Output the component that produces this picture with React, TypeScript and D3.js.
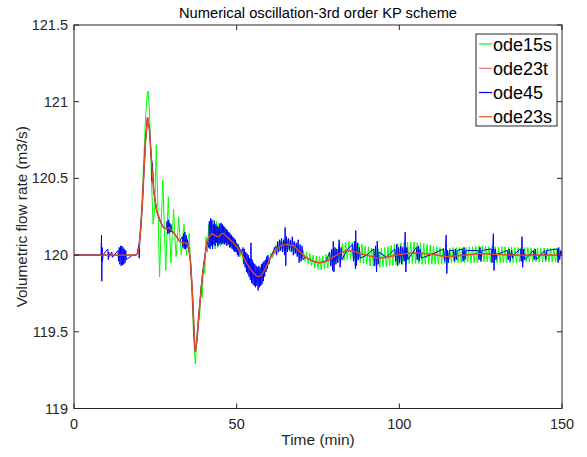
import React from 'react';
import * as d3 from 'd3';

const W = 587, H = 457;
const PL = 74, PR = 562, PT = 25, PB = 408.5;

const xTicks = [0, 50, 100, 150];
const yTicks = [119, 119.5, 120, 120.5, 121, 121.5];
const yTickLabels = ['119', '119.5', '120', '120.5', '121', '121.5'];
const seriesNames = ['ode15s', 'ode23t', 'ode45', 'ode23s'];
const seriesColors = ['#00ff00', '#f26b6b', '#0000ff', '#e0561d'];

// smooth solution (ode23t / ode23s)
const smoothT = [0, 18, 19, 19.5, 20, 20.5, 21, 21.5, 22, 22.6, 23.2, 23.8, 24.5, 25.4, 26.5, 27.5, 28.5, 29.2, 30.5, 31.5, 32.5, 33.5, 34.5, 35.2, 35.8, 36.4, 37.0, 37.3, 37.8, 38.7, 39.5, 40.3, 40.9, 41.6, 42.3, 43.2, 44.0, 44.6, 45.3, 46.0, 47.0, 48.0, 49.0, 50.0, 51.5, 53.0, 54.5, 56.0, 56.8, 57.5, 58.5, 60.3, 62.0, 63.5, 65.4, 67.5, 69.5, 71.0, 72.5, 74.0, 75.6, 77.5, 80, 82, 83.8, 86, 88, 90, 93, 96, 99, 102, 105.4, 110, 114.6, 120, 125, 130, 135, 140, 145, 150];
const smoothV = [120.0, 120.0, 120.0, 120.01, 120.05, 120.17, 120.33, 120.55, 120.75, 120.9, 120.82, 120.62, 120.42, 120.29, 120.22, 120.18, 120.17, 120.18, 120.15, 120.12, 120.09, 120.08, 120.08, 120.06, 119.96, 119.75, 119.45, 119.37, 119.45, 119.69, 119.87, 120.0, 120.09, 120.12, 120.14, 120.13, 120.12, 120.12, 120.14, 120.14, 120.12, 120.1, 120.08, 120.055, 120.01, 119.95, 119.9, 119.865, 119.86, 119.865, 119.9, 119.98, 120.03, 120.06, 120.07, 120.06, 120.02, 119.99, 119.97, 119.955, 119.95, 119.96, 119.99, 120.015, 120.03, 120.025, 120.01, 120.0, 119.98, 119.985, 120.0, 120.01, 120.015, 120.005, 119.99, 120.0, 120.01, 120.005, 120.0, 120.0, 120.0, 120.0];

// ode15s (green) head section
const greenHead: [number, number][] = [
  [0, 120], [19, 120], [19.5, 120.01], [20, 120.06], [20.5, 120.2], [21, 120.4], [21.5, 120.65], [22, 120.9], [22.5, 121.05], [22.8, 121.07],
  [23.2, 120.95], [23.8, 120.5], [24.3, 120.2], [24.8, 120.3], [25.3, 120.72], [25.8, 120.3], [26.3, 119.86], [26.8, 120.2], [27.3, 120.49],
  [27.8, 120.15], [28.2, 119.9], [28.6, 120.15], [29.0, 120.38], [29.4, 120.15], [29.8, 119.95], [30.2, 120.12], [30.6, 120.3], [31.0, 120.12],
  [31.4, 119.99], [31.8, 120.12], [32.2, 120.25], [32.6, 120.1], [33.0, 120.0], [33.4, 120.1], [33.8, 120.2], [34.2, 120.08], [34.6, 120.0],
  [35.0, 120.1], [35.4, 120.14], [35.8, 119.96], [36.3, 119.72], [36.8, 119.45], [37.3, 119.29], [37.8, 119.48], [38.3, 119.62], [38.6, 119.58],
  [39.0, 119.8], [39.4, 119.72], [39.8, 119.95], [40.2, 119.88], [40.6, 120.12], [41.0, 120.02], [41.4, 120.2], [41.8, 120.05], [42.2, 120.22],
  [42.6, 120.04], [43.0, 120.23], [43.4, 120.04], [43.8, 120.22], [44.2, 120.05], [44.6, 120.21], [45.0, 120.06], [45.4, 120.2], [45.8, 120.07],
  [46.2, 120.18], [46.6, 120.07], [47.0, 120.16], [47.4, 120.07], [47.8, 120.14], [48.2, 120.06], [48.6, 120.12], [49.0, 120.05], [49.4, 120.1],
  [49.8, 120.03], [50.5, 120.07], [51, 119.99], [51.5, 120.04], [52, 119.96], [52.5, 120.0], [53, 119.92], [53.5, 119.96], [54, 119.88],
  [54.5, 119.93], [55, 119.85], [55.5, 119.9], [56, 119.83], [56.5, 119.89], [57, 119.83], [57.5, 119.9], [58, 119.85], [58.5, 119.93],
  [59, 119.9], [59.5, 119.97], [60, 119.94], [60.5, 120.01], [61, 119.98], [61.5, 120.05], [62, 120.01], [62.5, 120.07], [63, 120.03],
  [63.5, 120.09], [64, 120.04], [64.5, 120.1], [65, 120.04], [65.5, 120.1], [66, 120.04], [66.5, 120.09], [67, 120.03], [67.5, 120.08],
  [68, 120.02], [68.5, 120.06], [69, 120.0], [69.5, 120.04], [70, 119.99]
];

// ode15s (green) tail, sampled every 0.5 min from 70.5
const greenTailStart = 70.5;
const greenTailStep = 0.5;
const greenTailV = [
  120.03, 119.96, 120.02, 119.94, 120.01, 119.93, 120.0, 119.915, 119.995, 119.91, 119.99, 119.905, 119.995, 119.91, 120.005, 119.915,
  120.02, 119.93, 120.03, 119.94, 120.045, 119.95, 120.06, 119.96, 120.075, 119.965, 120.085, 119.97, 120.09, 119.97, 120.085, 119.965,
  120.08, 119.96, 120.075, 119.95, 120.07, 119.945, 120.06, 119.94, 120.055, 119.93, 120.045, 119.925, 120.04, 119.92, 120.04, 119.92,
  120.045, 119.925, 120.05, 119.925, 120.055, 119.93, 120.065, 119.93, 120.07, 119.935, 120.075, 119.94, 120.08, 119.94, 120.085, 119.945,
  120.085, 119.945, 120.085, 119.945, 120.085, 119.945, 120.08, 119.945, 120.08, 119.94, 120.075, 119.94, 120.07, 119.94, 120.065, 119.94,
  120.06, 119.94, 120.055, 119.94, 120.05, 119.945, 120.045, 119.945, 120.045, 119.95, 120.045, 119.95, 120.05, 119.95, 120.05, 119.95,
  120.05, 119.95, 120.05, 119.95, 120.05, 119.955, 120.055, 119.95, 120.055, 119.95, 120.06, 119.95, 120.06, 119.955, 120.06, 119.955,
  120.06, 119.955, 120.055, 119.955, 120.055, 119.95, 120.055, 119.95, 120.05, 119.95, 120.055, 119.95, 120.055, 119.95, 120.05, 119.95,
  120.05, 119.95, 120.05, 119.95, 120.05, 119.955, 120.05, 119.955, 120.05, 119.955, 120.05, 119.955, 120.045, 119.955, 120.045, 119.955,
  120.045, 119.955, 120.045, 119.955, 120.045, 119.955, 120.045, 119.955, 120.045, 119.955, 120.045, 119.955, 120.045, 119.96
];

// ode45 (blue) noisy samples on top of smooth trend
const blueNoise: [number, number][] = [
  [8.3, 120.0], [8.45, 120.13], [8.55, 119.83], [8.65, 120.05], [8.75, 119.96], [8.9, 120.0],
  [10.4, 120.04], [10.55, 119.97], [10.7, 120.02], [10.85, 119.99], [11.6, 120.02], [11.8, 119.985],
  [13.5, 120.03], [13.7, 119.96], [13.9, 120.05], [14.1, 119.94], [14.3, 120.06], [14.5, 119.93], [14.7, 120.06], [14.9, 119.935],
  [15.1, 120.05], [15.3, 119.94], [15.5, 120.04], [15.7, 119.95], [15.9, 120.03], [16.1, 119.97],
  [19.9, 120.07], [20.05, 119.98], [20.2, 120.09],
  [23.9, 120.62], [24.0, 120.48], [24.1, 120.6],
  [28.6, 120.22], [28.8, 120.14], [29.0, 120.23], [29.2, 120.14], [29.4, 120.21], [29.6, 120.15], [29.8, 120.2], [30.0, 120.15],
  [33.3, 120.12], [33.5, 120.05], [33.7, 120.14], [33.9, 120.04], [34.1, 120.15], [34.3, 120.04], [34.5, 120.13], [34.7, 120.05], [34.9, 120.1],
  [41.4, 120.05], [41.6, 120.22], [41.8, 120.04], [42.0, 120.24], [42.2, 120.06], [42.4, 120.23], [42.6, 120.04], [42.8, 120.2], [43.0, 120.07],
  [43.2, 120.22], [43.4, 120.06], [43.6, 120.2], [43.8, 120.08], [44.0, 120.19], [44.2, 120.06], [44.4, 120.18], [44.6, 120.07], [44.8, 120.2],
  [45.0, 120.08], [45.2, 120.21], [45.4, 120.07], [45.6, 120.2], [45.8, 120.08], [46.0, 120.19], [46.2, 120.07], [46.4, 120.18], [46.6, 120.08],
  [46.8, 120.17], [47.0, 120.06], [47.2, 120.16], [47.4, 120.07], [47.6, 120.15], [47.8, 120.05], [48.0, 120.14], [48.2, 120.05], [48.4, 120.13],
  [48.6, 120.04], [48.8, 120.12], [49.0, 120.03], [49.2, 120.11], [49.4, 120.02], [49.6, 120.1], [49.8, 120.02], [50.0, 120.08], [50.2, 120.0],
  [50.4, 120.07], [50.6, 119.99], [50.8, 120.05],
  [52.0, 120.05], [52.2, 119.94], [52.4, 120.04], [52.6, 119.92], [52.8, 120.02], [53.0, 119.89], [53.2, 120.01], [53.4, 119.88], [53.6, 120.0],
  [53.8, 119.86], [54.0, 119.98], [54.2, 119.84], [54.4, 120.08], [54.6, 119.82], [54.8, 119.97], [55.0, 119.81], [55.2, 119.95], [55.4, 119.8],
  [55.6, 119.94], [55.8, 119.79], [56.0, 119.93], [56.2, 119.8], [56.4, 119.92], [56.6, 119.77], [56.8, 119.93], [57.0, 119.79], [57.2, 119.92],
  [57.4, 119.8], [57.6, 119.94], [57.8, 119.81], [58.0, 119.95], [58.2, 119.83], [58.4, 119.96], [58.6, 119.86], [58.8, 119.97], [59.0, 119.89],
  [59.2, 119.99], [59.4, 119.91], [59.6, 120.0], [59.8, 119.94],
  [62.0, 120.06], [62.3, 120.0], [62.6, 120.09], [62.9, 120.02], [63.2, 120.1], [63.5, 120.03], [63.8, 120.11], [64.1, 120.02], [64.4, 120.1],
  [64.7, 120.0], [64.9, 120.18], [65.1, 119.93], [65.3, 120.12], [65.6, 120.02], [65.9, 120.11], [66.2, 120.03], [66.5, 120.1], [66.8, 120.02],
  [67.1, 120.12], [67.4, 120.0], [67.7, 120.09], [68.0, 120.01], [68.3, 120.08], [68.6, 119.99], [68.9, 120.1], [69.2, 119.95], [69.5, 120.07],
  [69.8, 119.96], [70.1, 120.06], [70.4, 119.97],
  [78.6, 120.02], [78.9, 119.93], [79.2, 120.04], [79.5, 119.9], [79.7, 120.09], [79.9, 119.89], [80.2, 120.05], [80.5, 119.94], [80.8, 120.04],
  [81.1, 119.95], [81.5, 120.1], [81.8, 119.92], [82.1, 120.05], [82.4, 119.97],
  [85.6, 120.07], [85.9, 119.96], [86.2, 120.09], [86.5, 119.91], [86.6, 120.16], [86.8, 119.93], [87.1, 120.08], [87.4, 119.97], [87.7, 120.05], [88.0, 119.98],
  [92.1, 120.04], [92.4, 119.93], [92.7, 120.06], [93.0, 119.89], [93.2, 120.09], [93.5, 119.94], [93.8, 120.02],
  [98.6, 120.04], [98.9, 119.96], [99.2, 120.07], [99.5, 119.93], [99.8, 120.05], [100.1, 119.95], [100.4, 120.06], [100.7, 119.94], [101.0, 120.05],
  [101.5, 119.96], [101.8, 120.15], [102.0, 119.89], [102.3, 120.05], [102.6, 119.97],
  [105.2, 120.05], [105.5, 119.97], [105.8, 120.06], [106.1, 119.96], [106.4, 120.04], [106.7, 119.98],
  [113.6, 120.04], [113.9, 119.96], [114.2, 120.05], [114.4, 120.13], [114.6, 119.88], [114.8, 120.03], [115.1, 119.95], [115.4, 120.03],
  [116.6, 120.03], [116.9, 119.96], [117.2, 120.04], [117.5, 119.97], [117.8, 120.03],
  [119.3, 120.04], [119.6, 119.96], [119.9, 120.05], [120.2, 119.97], [120.5, 120.03],
  [124.2, 120.03], [124.5, 119.97], [124.8, 120.05], [125.1, 119.96], [125.4, 120.03],
  [128.2, 120.04], [128.5, 119.95], [128.9, 120.14], [129.1, 119.9], [129.4, 120.04], [129.7, 119.97],
  [133.2, 120.03], [133.5, 119.97], [133.8, 120.04], [134.1, 119.96], [134.5, 120.03], [134.8, 119.98],
  [137.2, 120.04], [137.5, 119.96], [137.7, 120.12], [137.9, 119.92], [138.2, 120.04], [138.5, 119.97],
  [141.2, 120.03], [141.5, 119.97], [141.8, 120.04], [142.1, 119.97],
  [144.7, 120.03], [145.0, 119.97], [145.3, 120.03],
  [148.6, 120.04], [148.8, 119.95], [149.0, 120.05], [149.3, 119.97], [149.6, 120.03]
];

export default function App() {
  const x = d3.scaleLinear().domain([0, 150]).range([PL, PR]);
  const y = d3.scaleLinear().domain([119, 121.5]).range([PB, PT]);
  const line = d3.line<[number, number]>().x(d => x(d[0])).y(d => y(d[1]));

  const smooth: [number, number][] = smoothT.map((t, i) => [t, smoothV[i]]);
  const greenTail: [number, number][] = greenTailV.map((v, i) => [greenTailStart + i * greenTailStep, v]);
  const green = [...greenHead, ...greenTail];
  // blue: noise clusters merged with smooth trend points outside the clusters
  const clusters: [number, number][] = [];
  let cs = blueNoise[0][0], ce = blueNoise[0][0];
  for (let i = 1; i < blueNoise.length; i++) {
    if (blueNoise[i][0] - blueNoise[i - 1][0] > 1) { clusters.push([cs, ce]); cs = blueNoise[i][0]; }
    ce = blueNoise[i][0];
  }
  clusters.push([cs, ce]);
  const inCluster = (t: number) => clusters.some(c => t >= c[0] && t <= c[1]);
  const blue = [...smooth.filter(p => !inCluster(p[0])), ...blueNoise].sort((a, b) => a[0] - b[0]);

  const axisColor = '#262626';
  const font = 'Liberation Sans, Arial, Helvetica, sans-serif';
  const legendY = [44, 68.3, 92.5, 116.7];

  return (
    <svg width={W} height={H} style={{ position: 'absolute', left: 0, top: 0, background: '#fff' }} fontFamily={font}>
      <rect x={0} y={0} width={W} height={H} fill="#fff" />
      <defs>
        <clipPath id="plotclip"><rect x={PL} y={PT} width={PR - PL} height={PB - PT} /></clipPath>
      </defs>
      <g clipPath="url(#plotclip)" fill="none">
        <path d={line(green) || ''} stroke={seriesColors[0]} strokeWidth={1} />
        <path d={line(smooth) || ''} stroke={seriesColors[1]} strokeWidth={1.6} />
        <path d={line(blue) || ''} stroke={seriesColors[2]} strokeWidth={1} />
        <path d={line(smooth) || ''} stroke={seriesColors[3]} strokeWidth={1.3} />
      </g>
      {/* axes box */}
      <rect x={PL} y={PT} width={PR - PL} height={PB - PT} fill="none" stroke={axisColor} strokeWidth={1} />
      {xTicks.map(t => (
        <g key={'xt' + t}>
          <line x1={x(t)} x2={x(t)} y1={PB} y2={PB - 5} stroke={axisColor} />
          <line x1={x(t)} x2={x(t)} y1={PT} y2={PT + 5} stroke={axisColor} />
          <text x={x(t)} y={PB + 20} textAnchor="middle" fontSize={14.5} fill={axisColor}>{t}</text>
        </g>
      ))}
      {yTicks.map((t, i) => (
        <g key={'yt' + t}>
          <line x1={PL} x2={PL + 5} y1={y(t)} y2={y(t)} stroke={axisColor} />
          <line x1={PR} x2={PR - 5} y1={y(t)} y2={y(t)} stroke={axisColor} />
          <text x={PL - 6} y={y(t) + 5} textAnchor="end" fontSize={14.5} fill={axisColor}>{yTickLabels[i]}</text>
        </g>
      ))}
      <text x={(PL + PR) / 2} y={18} textAnchor="middle" fontSize={14.7} fill="#000">Numerical oscillation-3rd order KP scheme</text>
      <text x={(PL + PR) / 2} y={445} textAnchor="middle" fontSize={15.5} fill={axisColor}>Time (min)</text>
      <text transform={`translate(27,${(PT + PB) / 2}) rotate(-90)`} textAnchor="middle" fontSize={15.3} fill={axisColor}>Volumetric flow rate (m3/s)</text>
      {/* legend */}
      <rect x={476} y={34} width={81} height={92} fill="#fff" stroke={axisColor} strokeWidth={1} />
      {seriesNames.map((n, i) => (
        <g key={n}>
          <line x1={479} x2={492} y1={legendY[i]} y2={legendY[i]} stroke={seriesColors[i]} strokeWidth={1.2} />
          <text x={493} y={legendY[i] + 6.5} fontSize={18} fill="#000">{n}</text>
        </g>
      ))}
    </svg>
  );
}
